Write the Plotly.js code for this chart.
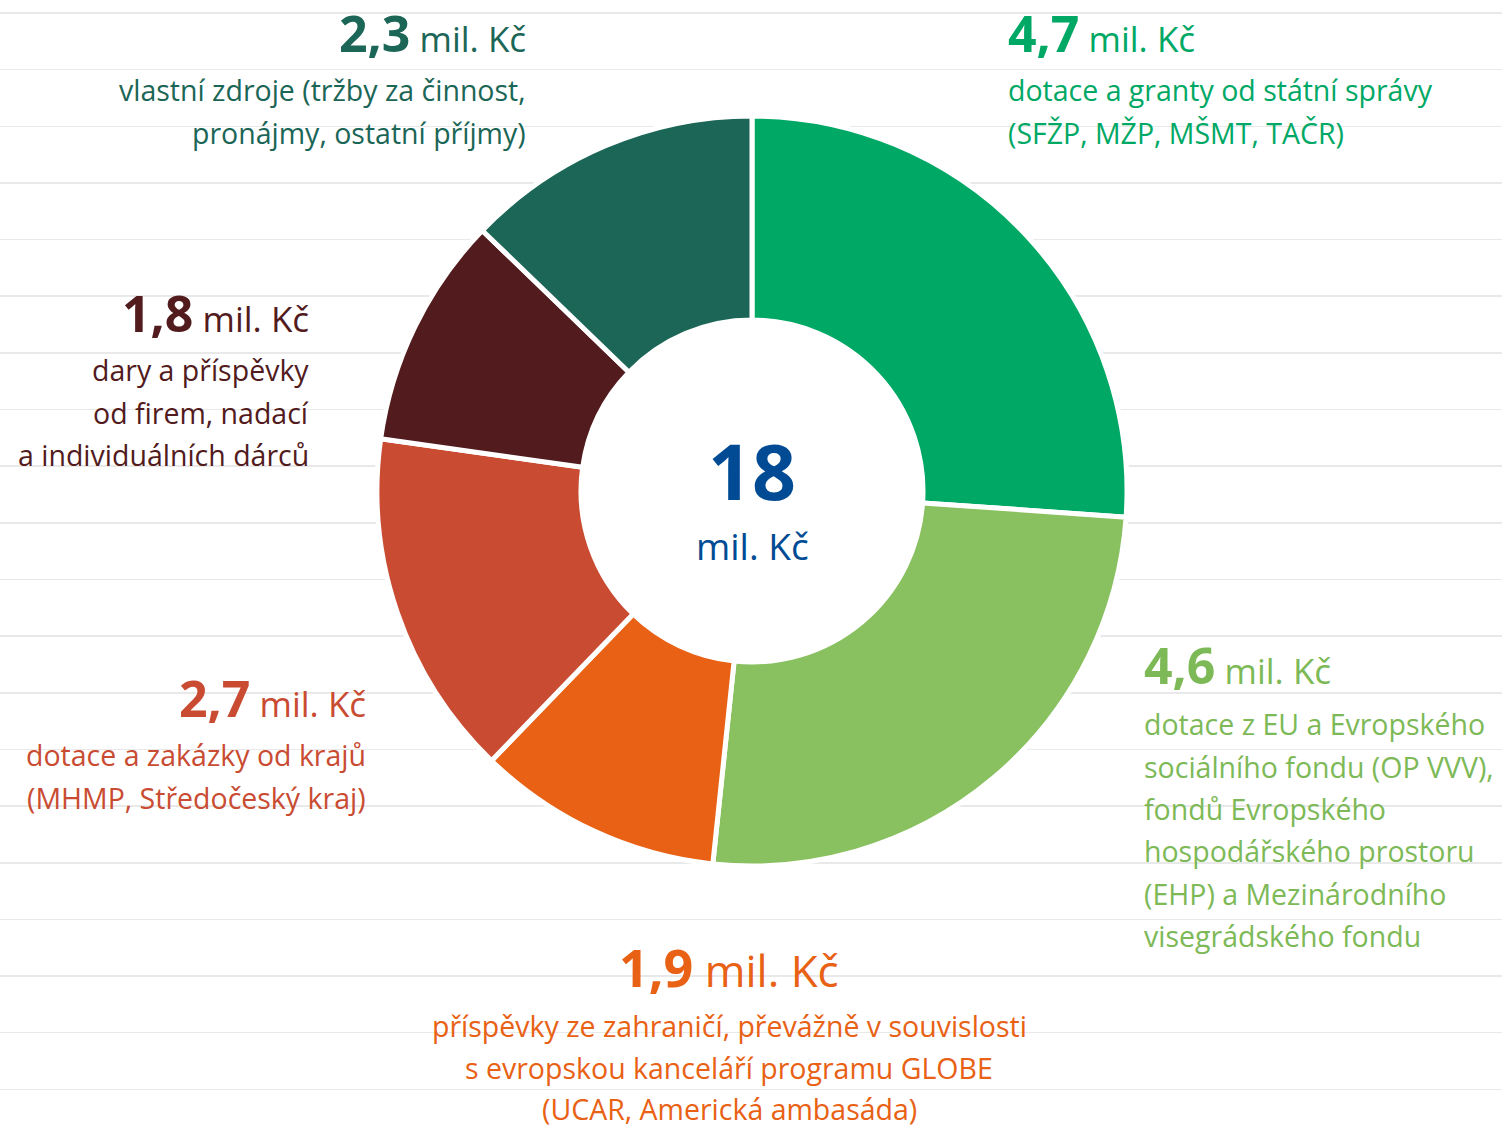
<!DOCTYPE html>
<html>
<head>
<meta charset="utf-8">
<script src="https://cdn.plot.ly/plotly-3.0.1.min.js"></script>
<style>html,body{margin:0;padding:0;background:#fff;}#chart{width:1502px;height:1130px;}</style>
</head>
<body>
<div id="chart"></div>
<script>
// ---- data ----
const categories = [
  'dotace a granty od státní správy',
  'dotace z EU a Evropského sociálního fondu',
  'příspěvky ze zahraničí',
  'dotace a zakázky od krajů',
  'dary a příspěvky',
  'vlastní zdroje'
];
const values = [4.7, 4.6, 1.9, 2.7, 1.8, 2.3];
const amountLabels = ['4,7', '4,6', '1,9', '2,7', '1,8', '2,3'];
const unit = 'mil. Kč';
const totalLabel = '18';
const descriptions = [
  ['dotace a granty od státní správy', '(SFŽP, MŽP, MŠMT, TAČR)'],
  ['dotace z EU a Evropského', 'sociálního fondu (OP VVV),', 'fondů Evropského', 'hospodářského prostoru', '(EHP) a Mezinárodního', 'visegrádského fondu'],
  ['příspěvky ze zahraničí, převážně v souvislosti', 's evropskou kanceláří programu GLOBE', '(UCAR, Americká ambasáda)'],
  ['dotace a zakázky od krajů', '(MHMP, Středočeský kraj)'],
  ['dary a příspěvky', 'od firem, nadací', 'a individuálních dárců'],
  ['vlastní zdroje (tržby za činnost,', 'pronájmy, ostatní příjmy)']
];

// ---- styles / layout ----
const W = 1502, H = 1130;
const sliceColors = ['#00a865', '#89c160', '#e86114', '#c94c32', '#521b1d', '#1b6656'];
const textColors  = ['#00a865', '#7db957', '#e86114', '#c94c32', '#521b1d', '#1b6656'];
const FONT = '"Open Sans", "Noto Sans", sans-serif';
const cx = 752, cy = 491, R = 375, rHole = 171;
// label placement: [x, align, numberBaseline, firstDescBaseline, descStep, numFs, unitFs]
const labelPos = [
  [1007, 'left', 53, 102, 42.3, 50, 35],
  [1143, 'left', 685, 736, 42.3, 50, 35],
  [729, 'center', 988, 1038, 41.5, 52, 44],
  [367, 'right', 718, 767, 42.3, 50, 35],
  [310, 'right', 333, 382, 42.3, 50, 35],
  [527, 'right', 53, 102, 42.3, 50, 35]
];
const descFs = 28.5;

function py(yTop){ return 1 - yTop / H; }
function bottomAt(baseline, fs){ return py(baseline + 0.293 * fs); }

const annotations = [];
values.forEach((v, i) => {
  const [x, align, nb, db, step, nfs, ufs] = labelPos[i];
  annotations.push({
    xref: 'paper', yref: 'paper', x: x / W, y: bottomAt(nb, nfs),
    xanchor: align, yanchor: 'bottom', showarrow: false, align: align, borderpad: 0,
    text: '<b><span style="font-size:' + nfs + 'px">' + amountLabels[i] + '</span></b> ' + unit,
    font: {family: FONT, size: ufs, color: textColors[i]}
  });
  descriptions[i].forEach((line, k) => {
    annotations.push({
      xref: 'paper', yref: 'paper', x: x / W, y: bottomAt(db + k * step, descFs),
      xanchor: align, yanchor: 'bottom', showarrow: false, align: align, borderpad: 0,
      text: line,
      font: {family: FONT, size: descFs, color: textColors[i]}
    });
  });
});
// center total
annotations.push({
  xref: 'paper', yref: 'paper', x: cx / W, y: bottomAt(501, 77), xanchor: 'center', yanchor: 'bottom', borderpad: 0,
  showarrow: false, text: '<b>' + totalLabel + '</b>', font: {family: FONT, size: 77, color: '#004b93'}
});
annotations.push({
  xref: 'paper', yref: 'paper', x: cx / W, y: bottomAt(561, 37), xanchor: 'center', yanchor: 'bottom', borderpad: 0,
  showarrow: false, text: unit, font: {family: FONT, size: 37, color: '#004b93'}
});

const pie = {
  type: 'pie',
  labels: categories,
  values: values,
  sort: false,
  direction: 'clockwise',
  rotation: 0,
  hole: rHole / R,
  textinfo: 'none',
  hoverinfo: 'label+value',
  showlegend: false,
  marker: {colors: sliceColors, line: {color: '#ffffff', width: 5}},
  domain: {x: [(cx - R) / W, (cx + R) / W], y: [py(cy + R), py(cy - R)]}
};

// background ruled paper lines via hidden cartesian axes grid
const bg = {type: 'scatter', x: [0], y: [0], mode: 'markers', marker: {opacity: 0}, hoverinfo: 'skip', showlegend: false};

const layout = {
  width: W, height: H,
  margin: {l: 0, r: 0, t: 0, b: 0},
  paper_bgcolor: '#ffffff', plot_bgcolor: '#ffffff',
  xaxis: {range: [0, W], visible: true, showgrid: false, zeroline: false, showticklabels: false, ticks: '', showline: false, fixedrange: true},
  yaxis: {range: [H, 0], showgrid: true, gridcolor: '#e9e9e9', gridwidth: 1.6, tick0: 13, dtick: 56.65, zeroline: false, showticklabels: false, ticks: '', showline: false, fixedrange: true},
  shapes: [{
    type: 'circle', xref: 'paper', yref: 'paper', layer: 'above',
    x0: (cx - rHole + 1) / W, x1: (cx + rHole - 1) / W, y0: py(cy + rHole - 1), y1: py(cy - rHole + 1),
    fillcolor: '#ffffff', line: {width: 0}
  }],
  annotations: annotations
};

Plotly.newPlot('chart', [bg, pie], layout, {displayModeBar: false, staticPlot: true});
</script>
</body>
</html>
